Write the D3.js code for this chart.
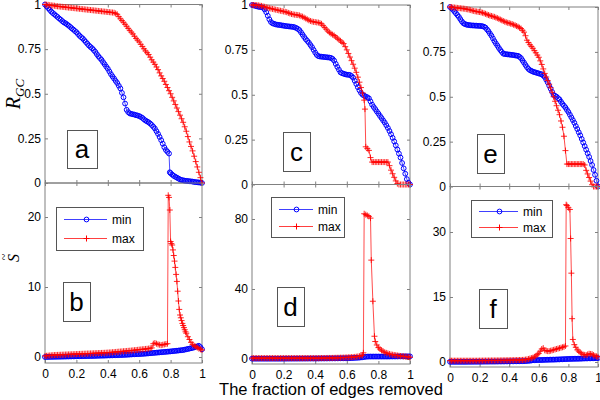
<!DOCTYPE html>
<html><head><meta charset="utf-8">
<script src="https://cdn.jsdelivr.net/npm/d3@7"></script>
<style>body{margin:0;background:#fff}svg{display:block}</style>
</head><body><svg id="c" width="600" height="400"></svg>
<script>
// ---------- data ----------
const seriesNames = ['min', 'max'];
const panelLetters = ['a', 'b', 'c', 'd', 'e', 'f'];
const xTicks = [0, 0.2, 0.4, 0.6, 0.8, 1];
const xTickLabels = ['0', '0.2', '0.4', '0.6', '0.8', '1'];
const rTicks = [0, 0.25, 0.5, 0.75, 1];
const rTickLabels = ['0', '0.25', '0.5', '0.75', '1'];
const bTicks = [0, 10, 20];
const dTicks = [0, 40, 80];
const fTicks = [0, 15, 30];
const xLabel = 'The fraction of edges removed';

// fraction of edges removed (sample positions)
const xGrid = [0,.01,.02,.03,.04,.05,.06,.07,.08,.09,.1,.11,.12,.13,.14,.15,.16,.17,.18,.19,.2,.21,.22,.23,.24,.25,.26,.27,.28,.29,.3,.31,.32,.33,.34,.35,.36,.37,.38,.39,.4,.41,.42,.43,.44,.45,.46,.47,.48,.49,.5,.51,.52,.53,.54,.55,.56,.57,.58,.59,.6,.61,.62,.63,.64,.65,.66,.67,.68,.69,.7,.71,.72,.73,.74,.75,.76,.77,.78,.79,.8,.81,.82,.83,.84,.85,.86,.87,.88,.89,.9,.91,.92,.93,.94,.95,.96,.97,.98,.99,1];

// panel a : R_GC
const aMin = [1,.99,.98,.97,.96,.952,.945,.937,.93,.922,
.915,.907,.9,.895,.889,.882,.875,.867,.86,.852,
.845,.835,.825,.817,.81,.8,.79,.78,.77,.762,
.755,.745,.735,.722,.71,.7,.69,.677,.665,.652,
.64,.625,.61,.597,.585,.572,.56,.545,.53,.505,
.48,.445,.41,.397,.39,.387,.385,.383,.38,.378,
.375,.37,.365,.357,.35,.345,.34,.333,.325,.315,
.305,.29,.275,.258,.24,.22,.2,.185,.175,.165,
.055,.047,.04,.035,.03,.025,.02,.017,.015,.013,
.012,.011,.01,.009,.008,.006,.005,.004,.003,.002,
0];
const aMinExtra = [[.795,.06]];
const aMax = [1,.999,.998,.996,.995,.994,.993,.991,.99,.989,
.988,.987,.986,.985,.984,.983,.982,.981,.98,.979,
.978,.977,.976,.975,.974,.973,.972,.971,.97,.969,
.968,.967,.966,.965,.964,.963,.962,.961,.96,.959,
.958,.957,.956,.955,.954,.95,.945,.932,.92,.91,
.9,.889,.878,.866,.855,.845,.835,.822,.81,.8,
.79,.777,.765,.752,.74,.73,.72,.705,.69,.677,
.665,.65,.635,.617,.6,.585,.57,.552,.535,.517,
.5,.48,.46,.44,.42,.4,.38,.36,.34,.315,
.29,.26,.23,.205,.18,.15,.12,.09,.06,.03,
0];
// panel b : S~
const bMin = [0,.005,.01,.015,.02,.025,.03,.035,.04,.045,
.05,.055,.06,.065,.07,.075,.08,.085,.09,.095,
.1,.105,.11,.115,.12,.125,.13,.135,.14,.145,
.15,.155,.16,.17,.18,.185,.19,.195,.2,.21,
.22,.225,.23,.24,.25,.255,.26,.27,.28,.29,
.3,.31,.32,.335,.35,.365,.38,.39,.4,.41,
.42,.435,.45,.465,.48,.5,.52,.54,.56,.58,
.6,.62,.64,.66,.68,.7,.72,.74,.76,.78,
.8,.825,.85,.875,.9,.925,.95,.975,1,1.05,
1.1,1.15,1.2,1.25,1.3,1.37,1.45,1.52,1.6,1.4,
1.1];
const bMax = [.15,.17,.2,.22,.24,.26,.28,.29,.3,.31,
.32,.33,.34,.35,.36,.37,.38,.39,.4,.41,
.42,.43,.44,.45,.46,.47,.48,.49,.5,.51,
.52,.53,.54,.55,.56,.57,.58,.59,.6,.615,
.63,.645,.66,.68,.7,.72,.74,.76,.78,.8,
.82,.84,.86,.88,.9,.92,.95,.97,1,1.02,
1.05,1.07,1.1,1.12,1.15,1.17,1.2,1.25,1.3,1.9,
2,1.9,1.8,1.75,1.7,1.75,1.8,1.85,1.9,22.8,
16.5,16,14.5,12.8,10.8,8,6,5.2,4.5,3.9,
3.4,2.9,2.5,2.1,1.8,1.6,1.5,1.35,1.2,1.1,
1];
const bMaxExtra = [[.785,23.1],[.795,21.0],[.805,16.2],[.815,15.3],[.825,13.7],[.835,11.8],[.845,9.4],[.855,6.8],[.865,5.6],[.875,4.8],[.885,4.2],[.895,3.6]];
// panel c : R_GC
const cMin = [1,.998,.995,.993,.99,.989,.988,.985,.975,.96,
.94,.92,.905,.898,.895,.892,.89,.889,.888,.886,
.885,.883,.882,.881,.88,.879,.878,.876,.872,.867,
.86,.848,.835,.822,.81,.8,.79,.777,.765,.75,
.735,.722,.715,.713,.712,.711,.71,.709,.708,.707,
.705,.7,.69,.672,.655,.64,.625,.62,.617,.614,
.612,.611,.61,.604,.595,.578,.56,.542,.525,.51,
.5,.495,.49,.486,.48,.463,.445,.432,.42,.407,
.395,.382,.37,.357,.345,.33,.315,.298,.28,.26,
.24,.218,.195,.172,.15,.12,.09,.06,.03,.01,
0];
const cMax = [1,1,1,.999,.998,.996,.995,.992,.99,.987,
.985,.982,.98,.978,.976,.974,.972,.97,.968,.966,
.964,.962,.96,.956,.953,.95,.948,.946,.945,.944,
.942,.938,.935,.93,.925,.92,.915,.911,.908,.906,
.905,.903,.902,.899,.895,.885,.875,.865,.855,.847,
.84,.835,.83,.822,.815,.807,.8,.792,.785,.768,
.75,.73,.71,.69,.67,.648,.625,.598,.57,.54,
.51,.47,.21,.2,.19,.15,.125,.125,.125,.125,
.125,.125,.125,.125,.125,.125,.125,.105,.08,.06,
.04,.02,.005,0,0,0,0,0,0,0,
0];
const cMaxExtra = [[.715,.42]];
// panel d : S~
const dMin = [.2,.2,.2,.2,.2,.2,.2,.2,.2,.2,
.2,.2,.2,.2,.2,.2,.2,.2,.2,.2,
.22,.22,.22,.23,.23,.23,.24,.24,.24,.25,
.25,.25,.26,.26,.26,.27,.27,.28,.28,.28,
.29,.29,.3,.3,.31,.31,.32,.32,.33,.34,
.35,.355,.36,.37,.38,.39,.4,.41,.42,.43,
.45,.47,.5,.55,.6,.65,.7,.75,.8,.9,
1,1.15,1.3,1.35,1.4,1.4,1.4,1.4,1.4,1.4,
1.4,1.4,1.4,1.4,1.4,1.4,1.4,1.42,1.44,1.45,
1.45,1.45,1.45,1.47,1.48,1.5,1.5,1.5,1.5,1.5,
1.5];
const dMax = [.5,.5,.5,.5,.5,.5,.5,.5,.5,.5,
.5,.5,.5,.5,.5,.5,.5,.5,.5,.5,
.5,.5,.5,.5,.5,.5,.5,.5,.5,.5,
.5,.5,.5,.5,.5,.5,.5,.5,.5,.5,
.5,.5,.5,.52,.55,.55,.55,.58,.6,.6,
.6,.62,.65,.68,.7,.72,.75,.78,.8,.85,
.9,.95,1,1.05,1.1,1.2,1.3,1.45,1.6,1.9,
2.2,83,82.5,82,81.5,80.5,null,null,10,8,
6.5,5.7,5,4.4,3.8,3.5,3.2,2.9,2.6,2.45,
2.3,2.15,2,1.85,1.7,1.6,1.5,1.4,1.3,1.15,
1];
const dMaxExtra = [[.705,3.5],[.755,56.5],[.765,33],[.775,13]];
// panel e : R_GC
const eMin = [1,.993,.985,.975,.965,.955,.945,.932,.92,.91,
.905,.902,.9,.899,.898,.897,.897,.896,.896,.895,
.895,.894,.893,.89,.885,.875,.865,.852,.84,.825,
.81,.797,.785,.772,.76,.75,.74,.738,.737,.736,
.735,.734,.733,.732,.73,.729,.728,.722,.715,.702,
.69,.677,.665,.655,.648,.644,.64,.637,.635,.632,
.63,.627,.625,.618,.61,.595,.58,.562,.545,.527,
.51,.505,.5,.492,.485,.472,.46,.45,.44,.427,
.415,.4,.385,.37,.355,.337,.32,.302,.285,.265,
.245,.225,.205,.185,.165,.142,.12,.092,.065,.032,
0];
const eMax = [1,.999,.998,.997,.996,.995,.994,.993,.992,.991,
.99,.988,.987,.985,.983,.98,.978,.976,.975,.973,
.972,.97,.968,.965,.962,.958,.955,.952,.95,.947,
.945,.941,.938,.934,.93,.926,.922,.918,.915,.912,
.91,.907,.905,.901,.898,.894,.89,.885,.88,.87,
.86,.84,.815,.802,.79,.78,.77,.757,.745,.732,
.72,.7,.68,.655,.63,.61,.59,.57,.55,.525,
.5,.475,.45,.425,.4,.365,.33,.28,.2,.125,
.125,.125,.125,.125,.125,.125,.125,.125,.125,.125,
.125,.12,.09,.07,.05,.03,.01,0,0,0,
0];
// panel f : S~
const fMin = [.05,.05,.05,.05,.05,.05,.05,.05,.05,.05,
.05,.05,.06,.06,.06,.06,.07,.07,.07,.07,
.08,.08,.08,.09,.09,.09,.09,.1,.1,.1,
.1,.11,.11,.12,.12,.12,.13,.13,.14,.14,
.15,.15,.16,.16,.17,.17,.18,.18,.19,.19,
.2,.22,.25,.28,.3,.35,.4,.41,.42,.44,
.45,.46,.47,.48,.5,.51,.52,.53,.54,.545,
.55,.56,.58,.59,.6,.62,.63,.65,.66,.68,
.7,.71,.72,.73,.74,.745,.75,.76,.77,.78,
.8,.81,.82,.83,.84,.85,.86,.87,.88,.89,
.9];
const fMax = [.3,.3,.3,.3,.3,.3,.3,.3,.3,.3,
.3,.3,.3,.3,.3,.3,.3,.3,.3,.3,
.32,.32,.32,.33,.33,.33,.34,.34,.35,.35,
.35,.35,.36,.36,.37,.37,.38,.38,.39,.39,
.4,.41,.42,.42,.43,.44,.45,.46,.47,.48,
.5,.55,.6,.7,.8,.9,1,1.2,1.4,1.7,
2,2.5,3,3.2,2.7,2.6,2.5,2.5,2.6,2.7,
2.8,2.9,3,3.1,3.2,3.3,3.4,3.5,3.7,36.1,
35.6,35.2,20.5,5.2,4,3.4,2.8,2.5,2.2,1.9,
1.7,1.65,1.6,1.75,1.9,1.85,1.8,1.6,1.4,1.3,
1.2];
const fMaxExtra = [[.785,36.3],[.815,28.5],[.825,10]];

function toSeries(ys, extra) {
  return xGrid.map((x, i) => [x, ys[i]]).filter(d => d[1] !== null)
    .concat(extra || []).sort((p, q) => p[0] - q[0]);
}

// ---------- layout ----------
const FONT = 'Arial, "Liberation Sans", Helvetica, sans-serif';
const AXIS = '#808080';
const BLUE = '#0000ff', RED = '#ff0000';
const svg = d3.select('#c');
svg.append('rect').attr('width', 600).attr('height', 400).attr('fill', '#fff');

const panels = [
  {x0:45, x1:202, yT:4.5, yB:183, dom:[0,1], ticks:rTicks, labels:rTickLabels, mn:toSeries(aMin, aMinExtra), mx:toSeries(aMax), bottom:false,
   box:[67,130,30,38], legend:null},
  {x0:45, x1:202, yT:183, yB:363, dom:[-0.857,24.86], ticks:bTicks, labels:bTicks.map(String), mn:toSeries(bMin), mx:toSeries(bMax, bMaxExtra), bottom:true,
   box:[63,282,27,39], legend:[56,207,87,43,64,107]},
  {x0:252, x1:410, yT:5, yB:184.5, dom:[0,1], ticks:rTicks, labels:rTickLabels, mn:toSeries(cMin), mx:toSeries(cMax, cMaxExtra), bottom:false,
   box:[283,132,27,39], legend:null},
  {x0:252, x1:410, yT:184.5, yB:364, dom:[-2.857,99.71], ticks:dTicks, labels:dTicks.map(String), mn:toSeries(dMin), mx:toSeries(dMax, dMaxExtra), bottom:true,
   box:[277,287,27,39], legend:[271,197,73,40,279,313]},
  {x0:450, x1:598, yT:7, yB:186.5, dom:[0,1], ticks:rTicks, labels:rTickLabels, mn:toSeries(eMin), mx:toSeries(eMax), bottom:false,
   box:[477,134,27,39], legend:null},
  {x0:450, x1:598, yT:186.5, yB:367, dom:[-1.154,40.5], ticks:fTicks, labels:fTicks.map(String), mn:toSeries(fMin), mx:toSeries(fMax, fMaxExtra), bottom:true,
   box:[479,289,28,39], legend:[471,200,81,37,479,518]},
];

function plusPath(cx, cy, s) { return `M${cx-s},${cy}H${cx+s}M${cx},${cy-s}V${cy+s}`; }

function styleAxis(sel) {
  sel.select('.domain').remove();
  sel.selectAll('.tick line').attr('stroke', AXIS);
  sel.selectAll('.tick text').attr('fill', '#000').style('font-family', FONT).style('font-size', '12px');
}

panels.forEach((p, pi) => {
  const x = d3.scaleLinear().domain([0, 1]).range([p.x0, p.x1]);
  const y = d3.scaleLinear().domain(p.dom).range([p.yB, p.yT]);
  const g = svg.append('g');

  g.append('g').attr('transform', `translate(${p.x0},0)`)
    .call(d3.axisLeft(y).tickValues(p.ticks).tickFormat((d, i) => p.labels[i]).tickSizeInner(-3).tickSizeOuter(0).tickPadding(4))
    .call(styleAxis);
  g.append('g').attr('transform', `translate(${p.x1},0)`)
    .call(d3.axisRight(y).tickValues(p.ticks).tickFormat('').tickSizeInner(-3).tickSizeOuter(0))
    .call(styleAxis);
  g.append('g').attr('transform', `translate(0,${p.yB})`)
    .call(d3.axisBottom(x).tickValues(xTicks).tickFormat(p.bottom ? ((d, i) => xTickLabels[i]) : '').tickSizeInner(-3).tickSizeOuter(0).tickPadding(6))
    .call(styleAxis);
  g.append('g').attr('transform', `translate(0,${p.yT})`)
    .call(d3.axisTop(x).tickValues(xTicks).tickFormat('').tickSizeInner(-3).tickSizeOuter(0))
    .call(styleAxis);
  g.append('rect').attr('x', p.x0).attr('y', p.yT).attr('width', p.x1 - p.x0).attr('height', p.yB - p.yT)
    .attr('fill', 'none').attr('stroke', AXIS).attr('stroke-width', 1);

  const line = d3.line().x(d => x(d[0])).y(d => y(d[1]));
  // min series: blue circles
  g.append('path').datum(p.mn).attr('d', line).attr('fill', 'none').attr('stroke', BLUE).attr('stroke-width', 1).attr('stroke-opacity', 0.7);
  g.append('g').selectAll('circle').data(p.mn).join('circle')
    .attr('cx', d => x(d[0])).attr('cy', d => y(d[1])).attr('r', 2.4)
    .attr('fill', 'none').attr('stroke', BLUE).attr('stroke-width', 1);
  // max series: red plus
  g.append('path').datum(p.mx).attr('d', line).attr('fill', 'none').attr('stroke', RED).attr('stroke-width', 1).attr('stroke-opacity', 0.7);
  g.append('g').selectAll('path').data(p.mx).join('path')
    .attr('d', d => plusPath(x(d[0]), y(d[1]), 3))
    .attr('fill', 'none').attr('stroke', RED).attr('stroke-width', 1).attr('stroke-opacity', 0.85);

  // panel letter box
  const [bx, by, bw, bh] = p.box;
  g.append('rect').attr('x', bx + 0.5).attr('y', by + 0.5).attr('width', bw).attr('height', bh)
    .attr('fill', '#fff').attr('stroke', '#555').attr('stroke-width', 1);
  g.append('text').attr('x', bx + bw / 2).attr('y', by + bh / 2).attr('dy', '0.35em')
    .attr('text-anchor', 'middle').style('font-family', FONT).style('font-size', '26px').text(panelLetters[pi]);

  // legend
  if (p.legend) {
    const [lx, ly, lw, lh, l0, l1] = p.legend;
    g.append('rect').attr('x', lx + 0.5).attr('y', ly + 0.5).attr('width', lw).attr('height', lh)
      .attr('fill', '#fff').attr('stroke', '#555').attr('stroke-width', 1);
    const rows = [Math.round(ly + lh * 0.29) + 0.5, Math.round(ly + lh * 0.73) + 0.5];
    seriesNames.forEach((nm, k) => {
      const col = k === 0 ? BLUE : RED;
      const cy = rows[k], cx = Math.round((l0 + l1) / 2) + 0.5;
      g.append('line').attr('x1', l0).attr('x2', l1).attr('y1', cy).attr('y2', cy)
        .attr('stroke', col).attr('stroke-width', 1).attr('stroke-opacity', 0.75);
      if (k === 0) g.append('circle').attr('cx', cx).attr('cy', cy).attr('r', 2.4).attr('fill', 'none').attr('stroke', col);
      else g.append('path').attr('d', plusPath(cx, cy, 3)).attr('fill', 'none').attr('stroke', col);
      g.append('text').attr('x', l1 + 5).attr('y', cy).attr('dy', '0.35em')
        .style('font-family', FONT).style('font-size', '12px').text(nm);
    });
  }
});

// y labels
const rg = svg.append('text').attr('transform', 'translate(20,94) rotate(-90)').attr('text-anchor', 'middle')
  .style('font-family', '"Liberation Serif", "Times New Roman", serif').style('font-style', 'italic');
rg.append('tspan').style('font-size', '20px').text('R');
rg.append('tspan').style('font-size', '13px').attr('dy', 4).text('GC');

const st = svg.append('g').attr('transform', 'translate(19,258) rotate(-90)');
st.append('text').attr('text-anchor', 'middle')
  .style('font-family', '"Liberation Serif", "Times New Roman", serif').style('font-style', 'italic').style('font-size', '16px').text('S');
st.append('text').attr('text-anchor', 'middle').attr('y', -11).attr('x', 1)
  .style('font-family', '"Liberation Serif", "Times New Roman", serif').style('font-size', '12px').text('~');

// x label
svg.append('text').attr('x', 331).attr('y', 395).attr('text-anchor', 'middle')
  .style('font-family', FONT).style('font-size', '16.5px').text(xLabel);
</script>
</body></html>
